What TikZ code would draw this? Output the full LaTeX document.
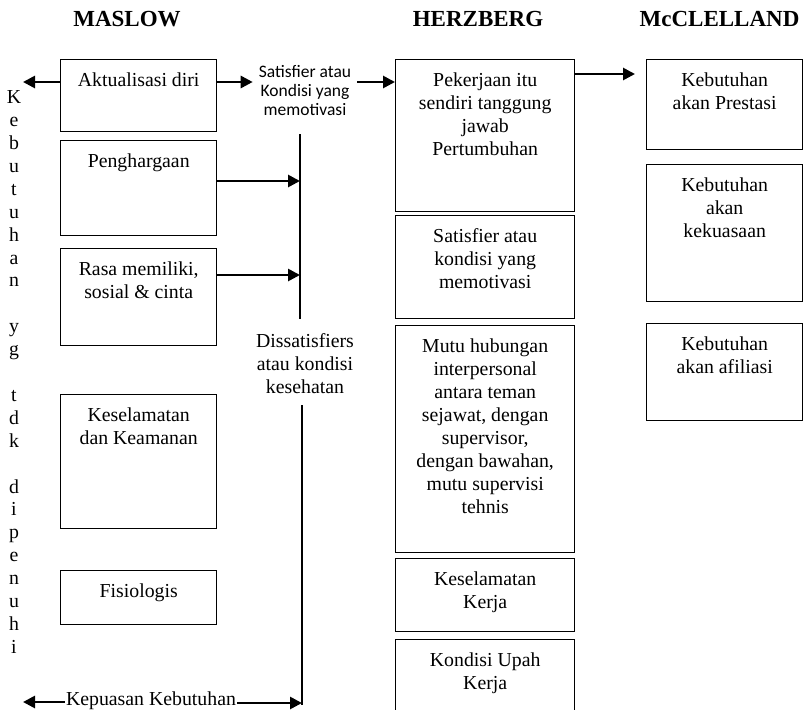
\documentclass[tikz,border=0pt]{standalone}
\usepackage{fontspec}
\setmainfont{Liberation Serif}
\newfontfamily\calibrifont{Carlito}
\usetikzlibrary{arrows.meta}
\begin{document}
\begin{tikzpicture}[x=1pt,y=-1pt,
  box/.style={draw, line width=1.4pt, anchor=north west, inner sep=0pt},
  boxtext/.style={anchor=north, align=center, inner sep=0pt,
    font=\fontsize{19.8}{23}\selectfont},
  head/.style={anchor=base, inner sep=0pt,
    font=\fontsize{23}{27}\selectfont\bfseries},
  arr/.style={line width=2.7pt, -{Triangle[length=12pt,width=12pt]}},
  rule/.style={line width=1.3pt}]
\clip (0,0) rectangle (804,710);
\fill[white] (0,0) rectangle (804,710);

% column headings
\node[head] (hm) at (127,26.5) {MASLOW};
\node[head] (hh) at (478,26.5) {HERZBERG};
\node[head] (hc) at (719.5,26.5) {McCLELLAND};

% Maslow hierarchy
\node[box, minimum width=156pt, minimum height=72pt]  (m1) at (60,59)  {};
\node[box, minimum width=156pt, minimum height=95pt]  (m2) at (60,140) {};
\node[box, minimum width=156pt, minimum height=97pt]  (m3) at (60,248) {};
\node[box, minimum width=156pt, minimum height=134pt] (m4) at (60,394) {};
\node[box, minimum width=156pt, minimum height=54pt]  (m5) at (60,570) {};
\node[boxtext] (m1t) at ([yshift=-11.4pt]m1.north) {\strut Aktualisasi diri};
\node[boxtext] (m2t) at ([yshift=-11.4pt]m2.north) {\strut Penghargaan};
\node[boxtext] (m3t) at ([yshift=-11.4pt]m3.north) {\strut Rasa memiliki,\\ sosial \& cinta};
\node[boxtext] (m4t) at ([yshift=-11.4pt]m4.north) {\strut Keselamatan\\ dan Keamanan};
\node[boxtext] (m5t) at ([yshift=-11.4pt]m5.north) {\strut Fisiologis};

% Herzberg factors
\node[box, minimum width=179pt, minimum height=152pt] (h1) at (395,59)  {};
\node[box, minimum width=179pt, minimum height=103pt] (h2) at (395,215) {};
\node[box, minimum width=179pt, minimum height=227pt] (h3) at (395,325) {};
\node[box, minimum width=179pt, minimum height=73pt]  (h4) at (395,558) {};
\node[box, minimum width=179pt, minimum height=90pt]  (h5) at (395,639) {};
\node[boxtext] (h1t) at ([yshift=-11.4pt]h1.north) {\strut Pekerjaan itu\\ sendiri tanggung\\ jawab\\ Pertumbuhan};
\node[boxtext] (h2t) at ([yshift=-11.4pt]h2.north) {\strut Satisfier atau\\ kondisi yang\\ memotivasi};
\node[boxtext] (h3t) at ([yshift=-11.4pt]h3.north) {\strut Mutu hubungan\\ interpersonal\\ antara teman\\ sejawat, dengan\\ supervisor,\\ dengan bawahan,\\ mutu supervisi\\ tehnis};
\node[boxtext] (h4t) at ([yshift=-11.4pt]h4.north) {\strut Keselamatan\\ Kerja};
\node[boxtext] (h5t) at ([yshift=-11.4pt]h5.north) {\strut Kondisi Upah\\ Kerja};

% McClelland needs
\node[box, minimum width=156pt, minimum height=90pt]  (c1) at (646,59)  {};
\node[box, minimum width=156pt, minimum height=137pt] (c2) at (646,164) {};
\node[box, minimum width=156pt, minimum height=97pt]  (c3) at (646,323) {};
\node[boxtext] (c1t) at ([yshift=-11.4pt]c1.north) {\strut Kebutuhan\\ akan Prestasi};
\node[boxtext] (c2t) at ([yshift=-11.4pt]c2.north) {\strut Kebutuhan\\ akan\\ kekuasaan};
\node[boxtext] (c3t) at ([yshift=-11.4pt]c3.north) {\strut Kebutuhan\\ akan afiliasi};

% vertical side label
\node[anchor=north, align=center, inner sep=0pt,
      font=\fontsize{19.8}{22.9}\selectfont] (side) at (14,87.5)
  {\strut K\\e\\b\\u\\t\\u\\h\\a\\n\\\mbox{}\\y\\g\\\mbox{}\\t\\d\\k\\\mbox{}\\d\\i\\p\\e\\n\\u\\h\\i};

% labels between the columns
\node[anchor=north, align=center, inner xsep=6pt, inner ysep=0pt,
      font=\calibrifont\fontsize{17.5}{19.3}\selectfont] (sat) at (305,63.5)
  {\strut Satisfier atau\\ Kondisi yang\\ memotivasi};
\node[boxtext] (dis) at (305,331) {\strut Dissatisfiers\\ atau kondisi\\ kesehatan};
\node[anchor=base, inner xsep=1pt, inner ysep=0pt,
      font=\fontsize{19.8}{23}\selectfont] (kep) at (151,705) {Kepuasan Kebutuhan};

% connector end points
\coordinate (lft) at (23,82);
\coordinate (hcx) at (635,74);
\coordinate (vt) at (300,134);
\coordinate (vm) at (300,319);
\coordinate (a2) at (300,181);
\coordinate (a3) at (300,275);
\coordinate (lt) at (302,405);
\coordinate (lb) at (302,705);
\coordinate (kl) at (23,702);
\coordinate (kr) at (302,703);

% divider lines
\draw[rule] (vt) -- (vm);
\draw[rule] (lt) -- (lb);

% arrows
\draw[arr] (m1.west |- lft) -- (lft);
\draw[arr] (m1.east |- lft) -- (sat.west |- lft);
\draw[arr] (sat.east |- lft) -- (h1.west |- lft);
\draw[arr] (h1.east |- hcx) -- (hcx);
\draw[arr] (m2.east |- a2) -- (a2);
\draw[arr] (m3.east |- a3) -- (a3);
\draw[arr] (kep.west |- kl) -- (kl);
\draw[arr] (kep.east |- kr) -- (kr);
\end{tikzpicture}
\end{document}
